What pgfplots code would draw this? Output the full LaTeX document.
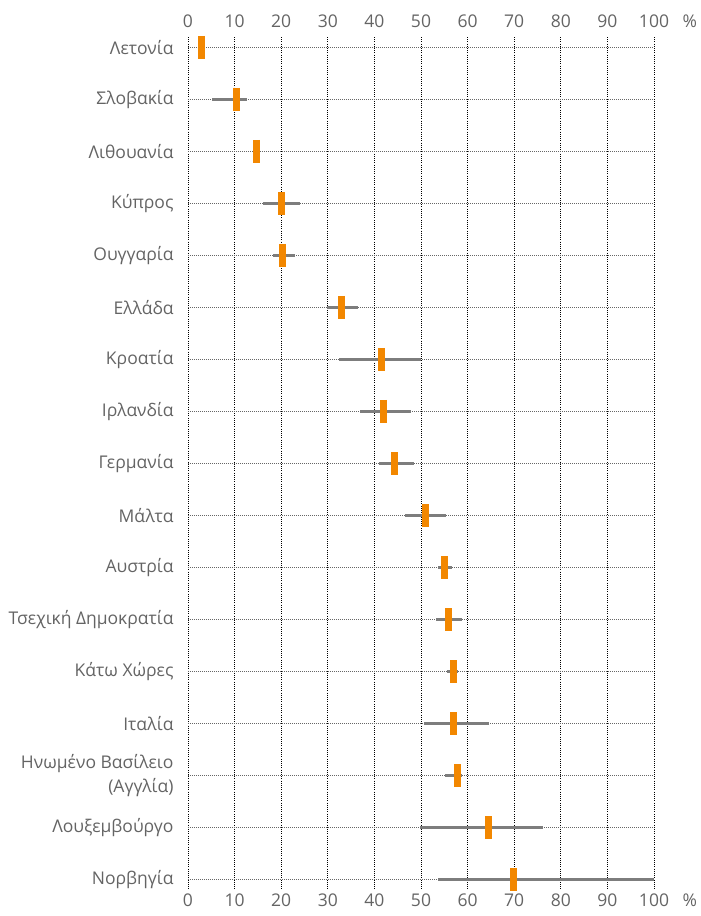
\documentclass[border=0pt]{standalone}
\usepackage{pgfplots}
\pgfplotsset{compat=1.18}
\usepackage{pgfplotstable}
\usepackage{fontspec}
\setmainfont{Open Sans}
\definecolor{txtgray}{RGB}{100,100,100}
\definecolor{rangegray}{RGB}{125,125,125}
\definecolor{mkorange}{RGB}{242,135,0}
\pgfplotstableread{
i v lo hi
0 2.9 2.9 2.9
1 10.4 5.1 12.7
2 14.7 14.7 14.7
3 20.0 16.2 24.0
4 20.2 18.3 22.9
5 32.9 29.8 36.4
6 41.5 32.4 50.0
7 42.0 36.9 47.9
8 44.3 41.0 48.6
9 51.0 46.6 55.4
10 55.0 53.6 56.7
11 55.8 53.2 58.9
12 56.9 55.5 58.0
13 56.9 50.7 64.5
14 57.8 55.2 58.7
15 64.5 49.7 76.1
16 69.9 53.7 100
}\datatab
\begin{document}
\begin{tikzpicture}
\useasboundingbox (-188pt,-26pt) rectangle (513pt,890pt);
\pgfplotsset{common/.style={
  scale only axis, width=466pt, height=853pt,
  xmin=0, xmax=100, ymin=-0.2, ymax=16.2, y dir=reverse,
  axis line style={draw=none}, major tick length=0pt,
  xtick={0,10,...,100},
  /pgf/number format/assume math mode=true,
  ticklabel style={text=txtgray, font=\fontsize{17.5}{20}\selectfont},
  clip=false,
}}
\begin{axis}[common,
  xticklabel pos=lower,
  xticklabel style={anchor=base, yshift=-16pt},
  ytick={0,...,16},
  yticklabels={Λετονία,Σλοβακία,Λιθουανία,Κύπρος,Ουγγαρία,Ελλάδα,Κροατία,Ιρλανδία,Γερμανία,Μάλτα,Αυστρία,Τσεχική Δημοκρατία,Κάτω Χώρες,Ιταλία,{Ηνωμένο Βασίλειο\\(Αγγλία)},Λουξεμβούργο,Νορβηγία},
  yticklabel style={align=right, font=\fontsize{17.5}{24}\selectfont, xshift=-11pt},
  xmajorgrids, ymajorgrids,
  x grid style={black, line width=0.6pt, dash pattern=on 1pt off 1.2pt},
  y grid style={black!60, line width=0.7pt, dash pattern=on 1pt off 1pt},
]
\addplot[only marks, mark=none,
  error bars/.cd, x dir=both, x explicit,
  error mark=none,
  error bar style={draw=rangegray, line width=2.6pt}]
  table[x=v, y=i, x error plus expr=\thisrow{hi}-\thisrow{v}, x error minus expr=\thisrow{v}-\thisrow{lo}] {\datatab};
\addplot[only marks, mark=|, mark size=11.5pt,
  mark options={draw=mkorange, line width=7pt, line cap=butt}]
  table[x=v, y=i] {\datatab};
\node[text=txtgray, font=\fontsize{17.5}{20}\selectfont, anchor=base, yshift=-16pt] at (axis description cs:1.077,0) {\%};
\end{axis}
\begin{axis}[common,
  xticklabel pos=upper,
  xticklabel style={anchor=base, yshift=10pt},
  ytick=\empty,
]
\node[text=txtgray, font=\fontsize{17.5}{20}\selectfont, anchor=base, yshift=10pt] at (axis description cs:1.077,1) {\%};
\end{axis}
\end{tikzpicture}
\end{document}
